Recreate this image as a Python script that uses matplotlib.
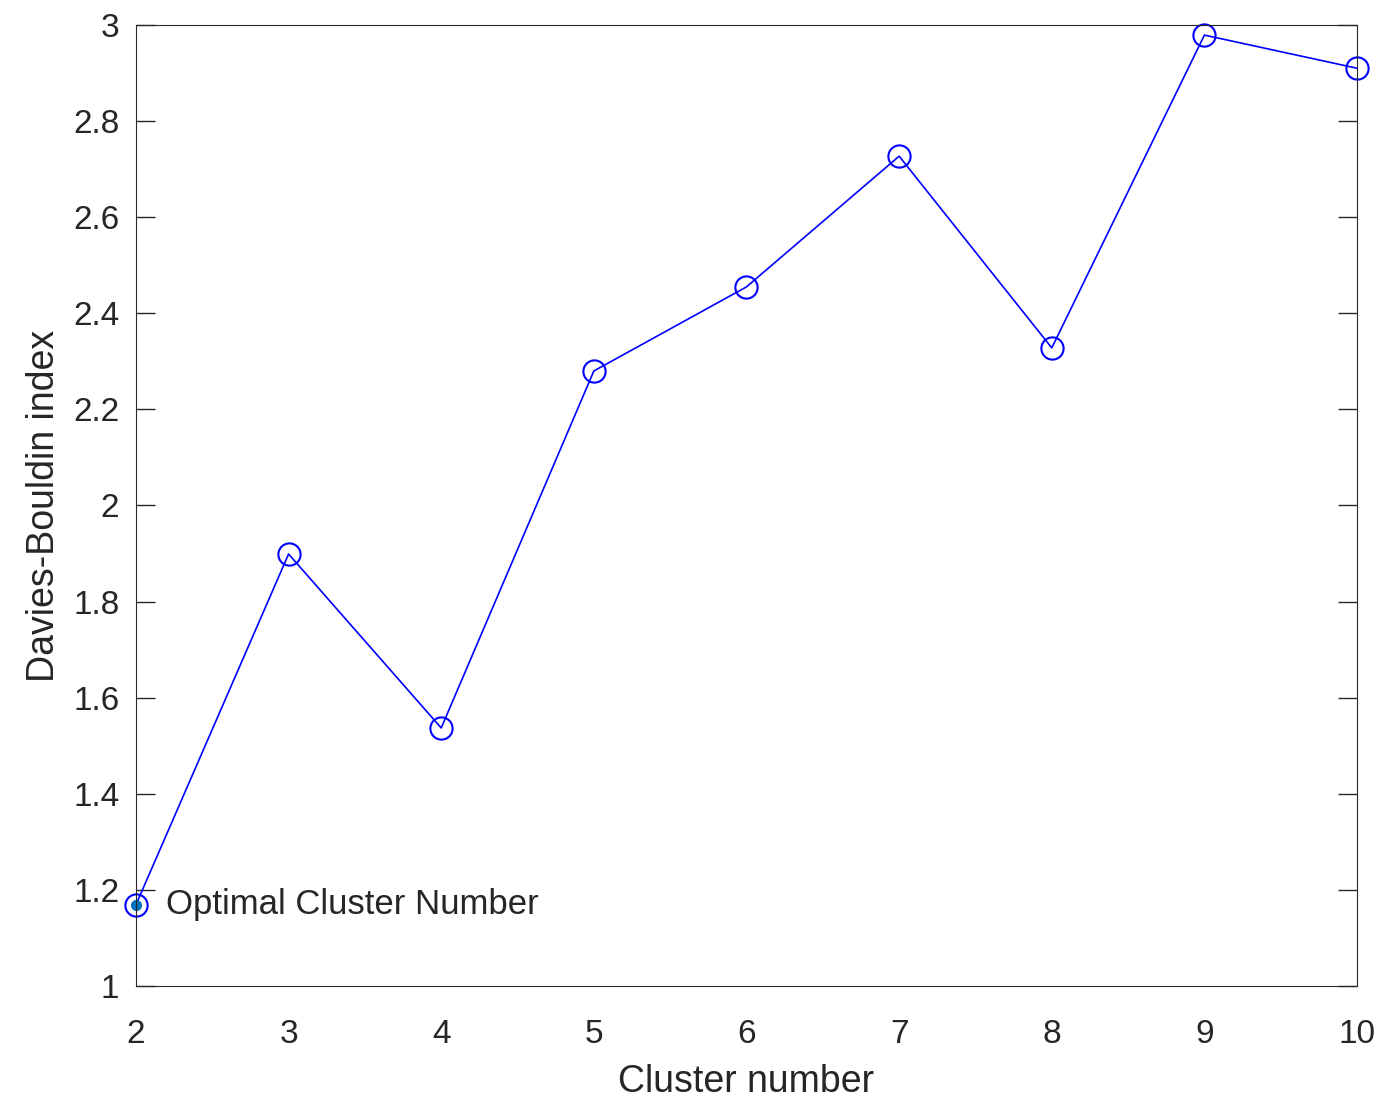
import matplotlib
matplotlib.use("Agg")
import matplotlib.pyplot as plt

clusters = [2, 3, 4, 5, 6, 7, 8, 9, 10]
db_index = [1.169, 1.899, 1.537, 2.280, 2.455, 2.727, 2.328, 2.979, 2.910]
optimal_k = 2
optimal_val = 1.169

plt.rcParams['font.family'] = ['Liberation Sans', 'DejaVu Sans']
fig = plt.figure(figsize=(13.9, 11.16), dpi=100)
ax = fig.add_axes([0.0978, 0.1165, 0.8785, 0.8611])
ax.plot(clusters, db_index, color='blue', lw=1.2, marker='o', ms=16,
        mfc='none', mec='blue', mew=1.5, clip_on=False)
ax.plot([optimal_k], [optimal_val], 'o', color='#0072BD', ms=7, clip_on=False)
ax.text(optimal_k + 0.2, optimal_val, 'Optimal Cluster Number', fontsize=25,
        va='center', ha='left', color='#262626')
ax.set_xlim(2, 10)
ax.set_ylim(1, 3)
ax.set_xticks(clusters)
ax.set_yticks([1, 1.2, 1.4, 1.6, 1.8, 2, 2.2, 2.4, 2.6, 2.8, 3])
ax.set_yticklabels(['1', '1.2', '1.4', '1.6', '1.8', '2', '2.2', '2.4', '2.6', '2.8', '3'])
ax.tick_params(axis='y', direction='in', length=14, width=1, labelsize=24,
               colors='#262626', right=True, pad=12)
ax.tick_params(axis='x', direction='in', length=0, labelsize=24,
               colors='#262626', pad=24)
for s in ax.spines.values():
    s.set_color('#262626')
ax.set_xlabel('Cluster number', fontsize=27, color='#262626', labelpad=10)
ax.set_ylabel('Davies-Bouldin index', fontsize=27, color='#262626', labelpad=8)
fig.savefig('out.png', dpi=100)
